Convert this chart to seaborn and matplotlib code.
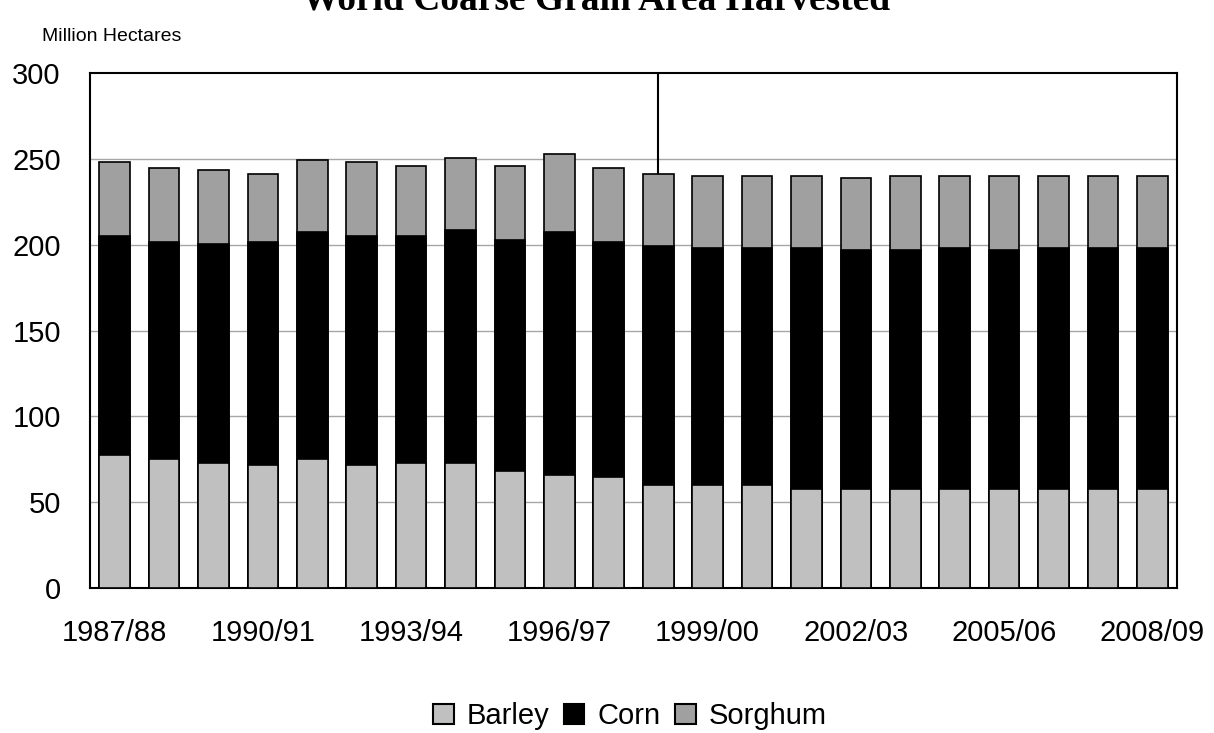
import numpy as np
import pandas as pd
import matplotlib
matplotlib.use("Agg")
import matplotlib.pyplot as plt
import seaborn as sns
from matplotlib.patches import Patch

years = ["1987/88", "1988/89", "1989/90", "1990/91", "1991/92", "1992/93", "1993/94",
         "1994/95", "1995/96", "1996/97", "1997/98", "1998/99", "1999/00", "2000/01",
         "2001/02", "2002/03", "2003/04", "2004/05", "2005/06", "2006/07", "2007/08",
         "2008/09"]
barley = [77.5, 75.2, 72.8, 71.7, 75.2, 71.7, 72.8, 72.8, 68.1, 65.8, 64.6,
          60.0, 60.0, 60.0, 57.8, 57.8, 57.8, 57.8, 57.8, 57.8, 57.8, 57.8]
corn = [127.8, 126.6, 127.8, 130.1, 132.4, 133.6, 132.5, 136.0, 134.8, 141.8, 137.2,
        139.4, 138.2, 138.2, 140.4, 139.3, 139.3, 140.4, 139.3, 140.4, 140.4, 140.4]
sorghum = [42.9, 42.9, 42.9, 39.6, 41.8, 42.9, 40.7, 41.8, 43.1, 45.2, 42.9,
           42.0, 41.9, 41.9, 41.9, 41.6, 43.0, 41.9, 43.0, 41.9, 41.9, 41.9]
series_names = ["Barley", "Corn", "Sorghum"]
series_colors = ["#c0c0c0", "#000000", "#a0a0a0"]
yticks = [0, 50, 100, 150, 200, 250, 300]

df = pd.DataFrame({"year": years, "Barley": barley, "Corn": corn, "Sorghum": sorghum})
df["corn_top"] = df["Barley"] + df["Corn"]
df["total"] = df["corn_top"] + df["Sorghum"]

sns.set_style("white")
plt.rcParams["font.family"] = ["Liberation Sans", "DejaVu Sans"]
plt.rcParams["text.color"] = "black"
plt.rcParams["xtick.color"] = "black"
plt.rcParams["ytick.color"] = "black"

fig = plt.figure(figsize=(12.14, 7.33), dpi=100)
ax = fig.add_axes([90 / 1214, 1 - 588 / 733, (1177 - 90) / 1214, (588 - 73) / 733])

common = dict(edgecolor="black", linewidth=1.2, width=0.62, saturation=1, ax=ax, zorder=3)
sns.barplot(data=df, x="year", y="total", color=series_colors[2], **common)
sns.barplot(data=df, x="year", y="corn_top", color=series_colors[1], **common)
sns.barplot(data=df, x="year", y="Barley", color=series_colors[0], **common)

# stray vertical line in the original chart, above the 1998/99 bar
idx = years.index("1998/99")
ax.vlines(idx, df["total"][idx], 300, color="black", linewidth=1.5, zorder=4)

ax.set_ylim(0, 300)
ax.set_xlim(-0.5, len(years) - 0.5)
ax.set_yticks(yticks)
ax.set_yticklabels([str(v) for v in yticks], fontsize=21)
for v in yticks[1:-1]:
    ax.axhline(v, color="#a6a6a6", linewidth=1.0, zorder=1)

ax.set_xticks(range(0, len(years), 3))
ax.set_xticklabels([years[i] for i in range(0, len(years), 3)], fontsize=21)
ax.set_xticks(np.arange(-0.5, len(years), 1.0), minor=True)
ax.tick_params(axis="x", which="major", length=0, pad=22)
ax.tick_params(axis="x", which="minor", length=7, width=1.3, direction="out")
ax.tick_params(axis="y", which="major", length=9, width=1.3, direction="out", pad=12)
ax.set_xlabel("")
ax.set_ylabel("")
for s in ax.spines.values():
    s.set_visible(True)
    s.set_color("black")
    s.set_linewidth(1.5)

fig.text(596 / 1214, 1 - 9 / 733, "World Coarse Grain Area Harvested",
         family=["Liberation Serif", "DejaVu Serif"], fontweight="bold", fontsize=27,
         ha="center", va="baseline")
fig.text(42 / 1214, 1 - 41 / 733, "Million Hectares", fontsize=14, ha="left", va="baseline")

handles = [Patch(facecolor=c, edgecolor="black", linewidth=1.5) for c in series_colors]
fig.legend(handles, series_names, loc="center", bbox_to_anchor=(630 / 1214, 1 - 716 / 733),
           ncol=3, frameon=False, fontsize=21, handlelength=0.7, handleheight=0.7,
           handletextpad=0.45, columnspacing=0.5)

fig.savefig("out.png", dpi=100)
